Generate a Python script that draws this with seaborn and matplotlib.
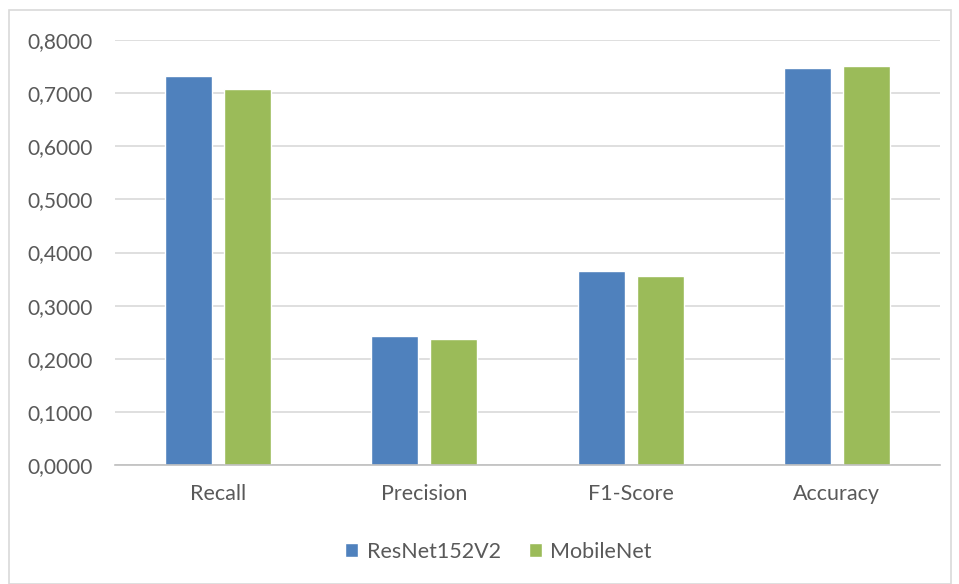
import pandas as pd
import matplotlib
matplotlib.use('Agg')
import matplotlib.pyplot as plt
import seaborn as sns
from matplotlib.ticker import FuncFormatter, MultipleLocator
from matplotlib.patches import Rectangle

# values
metrics = ['Recall', 'Precision', 'F1-Score', 'Accuracy']
resnet = [0.733, 0.243, 0.366, 0.747]
mobilenet = [0.708, 0.238, 0.356, 0.752]
models = ['ResNet152V2', 'MobileNet']
colors = ['#4F81BD', '#9BBB59']

df = pd.DataFrame({
    'metric': metrics * 2,
    'model': [models[0]] * 4 + [models[1]] * 4,
    'value': resnet + mobilenet,
})

sns.set_style('white')
plt.rcParams['font.family'] = ['Lato', 'DejaVu Sans']
txt = '#595959'

fig = plt.figure(figsize=(9.59, 5.84), dpi=100)
ax = fig.add_axes([115 / 959, 1 - 465 / 584, 825 / 959, 425 / 584])

sns.barplot(data=df, x='metric', y='value', hue='model', order=metrics,
            hue_order=models, palette=colors, width=0.57, gap=0.2,
            saturation=1, ax=ax, legend=True)

ax.set_ylim(0, 0.8)
ax.yaxis.set_major_locator(MultipleLocator(0.1))
ax.yaxis.set_major_formatter(FuncFormatter(lambda v, p: f'{v:.4f}'.replace('.', ',')))
ax.grid(axis='y', color='#D9D9D9', linewidth=1.2)
ax.set_axisbelow(True)
for s in ['top', 'right', 'left']:
    ax.spines[s].set_visible(False)
ax.spines['bottom'].set_color('#BFBFBF')
ax.spines['bottom'].set_linewidth(1.2)
ax.set_xlabel('')
ax.set_ylabel('')
ax.tick_params(axis='y', labelsize=15, colors=txt, length=0, pad=16)
ax.tick_params(axis='x', labelsize=15.5, colors=txt, length=0, pad=14)

ax.legend(loc='upper center', bbox_to_anchor=(0.465, -0.135), ncol=2, frameon=False,
          fontsize=15.5, labelcolor=txt, handlelength=0.6, handleheight=0.6,
          handletextpad=0.4, columnspacing=1.3)

fig.patches.append(Rectangle((9 / 959, 0), 942 / 959, 1 - 10 / 584,
                             transform=fig.transFigure, fill=False,
                             edgecolor='#D9D9D9', linewidth=1.2))

fig.savefig('out.png', dpi=100)
